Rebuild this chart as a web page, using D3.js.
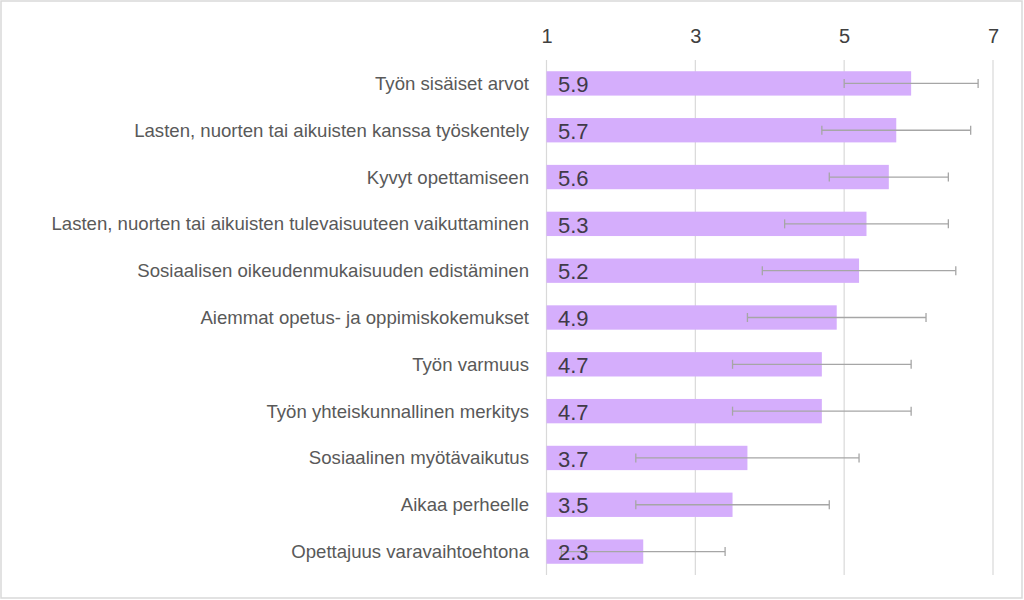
<!DOCTYPE html>
<html><head><meta charset="utf-8">
<script src="https://cdn.jsdelivr.net/npm/d3@7"></script>
<style>body{margin:0;background:#fff;} svg{display:block;}</style>
</head><body>
<script>
const categories = [
  "Työn sisäiset arvot",
  "Lasten, nuorten tai aikuisten kanssa työskentely",
  "Kyvyt opettamiseen",
  "Lasten, nuorten tai aikuisten tulevaisuuteen vaikuttaminen",
  "Sosiaalisen oikeudenmukaisuuden edistäminen",
  "Aiemmat opetus- ja oppimiskokemukset",
  "Työn varmuus",
  "Työn yhteiskunnallinen merkitys",
  "Sosiaalinen myötävaikutus",
  "Aikaa perheelle",
  "Opettajuus varavaihtoehtona"
];
const means = [5.9, 5.7, 5.6, 5.3, 5.2, 4.9, 4.7, 4.7, 3.7, 3.5, 2.3];
const errors = [0.9, 1.0, 0.8, 1.1, 1.3, 1.2, 1.2, 1.2, 1.5, 1.3, 1.1];
const tickValues = [1, 3, 5, 7];

const W = 1024, H = 600;
const svg = d3.select("body").append("svg").attr("width", W).attr("height", H);
svg.append("rect").attr("x", 1).attr("y", 1).attr("width", 1021).attr("height", 597)
  .attr("fill", "#fff").attr("stroke", "#d9d9d9").attr("stroke-width", 1.5);

const x = d3.scaleLinear().domain([1, 7]).range([546.5, 993]);
const y = d3.scaleBand().domain(categories).range([60, 575]).paddingInner(0.48).paddingOuter(0.24);

// gridlines
svg.append("g").selectAll("line").data(tickValues).join("line")
  .attr("x1", d => x(d)).attr("x2", d => x(d)).attr("y1", 60).attr("y2", 575)
  .attr("stroke", "#d9d9d9").attr("stroke-width", 1.2);

// top axis labels
const axis = svg.append("g").attr("transform", "translate(0,36)")
  .call(d3.axisTop(x).tickValues(tickValues).tickSize(0).tickPadding(0).tickFormat(d3.format("d")));
axis.select(".domain").remove();
axis.selectAll("text").attr("font-family", "Liberation Sans, Arial, sans-serif")
  .attr("font-size", 20).attr("fill", "#404040").attr("dy", "0.35em").attr("y", 0);

// bars
svg.append("g").selectAll("rect").data(categories).join("rect")
  .attr("x", x(1)).attr("y", d => y(d))
  .attr("width", (d, i) => x(means[i]) - x(1)).attr("height", y.bandwidth())
  .attr("fill", "#d5aefc");

// error bars
const eb = svg.append("g").attr("stroke", "#a6a6a6").attr("stroke-width", 1.3);
categories.forEach((c, i) => {
  const cy = y(c) + y.bandwidth() / 2;
  const lo = means[i] - errors[i], hi = means[i] + errors[i];
  eb.append("line").attr("x1", x(lo)).attr("x2", x(hi)).attr("y1", cy).attr("y2", cy);
  eb.append("line").attr("x1", x(lo)).attr("x2", x(lo)).attr("y1", cy - 4.5).attr("y2", cy + 4.5);
  eb.append("line").attr("x1", x(hi)).attr("x2", x(hi)).attr("y1", cy - 4.5).attr("y2", cy + 4.5);
});

// value labels
svg.append("g").selectAll("text").data(categories).join("text")
  .attr("x", x(1) + 11.5).attr("y", d => y(d) + y.bandwidth() / 2 + 1)
  .attr("dy", "0.35em")
  .attr("font-family", "Liberation Sans, Arial, sans-serif").attr("font-size", 22)
  .attr("fill", "#403a48")
  .text((d, i) => means[i].toFixed(1));

// category labels
svg.append("g").selectAll("text").data(categories).join("text")
  .attr("x", 529).attr("y", d => y(d) + y.bandwidth() / 2)
  .attr("dy", "0.35em").attr("text-anchor", "end")
  .attr("font-family", "Liberation Sans, Arial, sans-serif").attr("font-size", 18.6)
  .attr("fill", "#595959")
  .text(d => d);
</script>
</body></html>
